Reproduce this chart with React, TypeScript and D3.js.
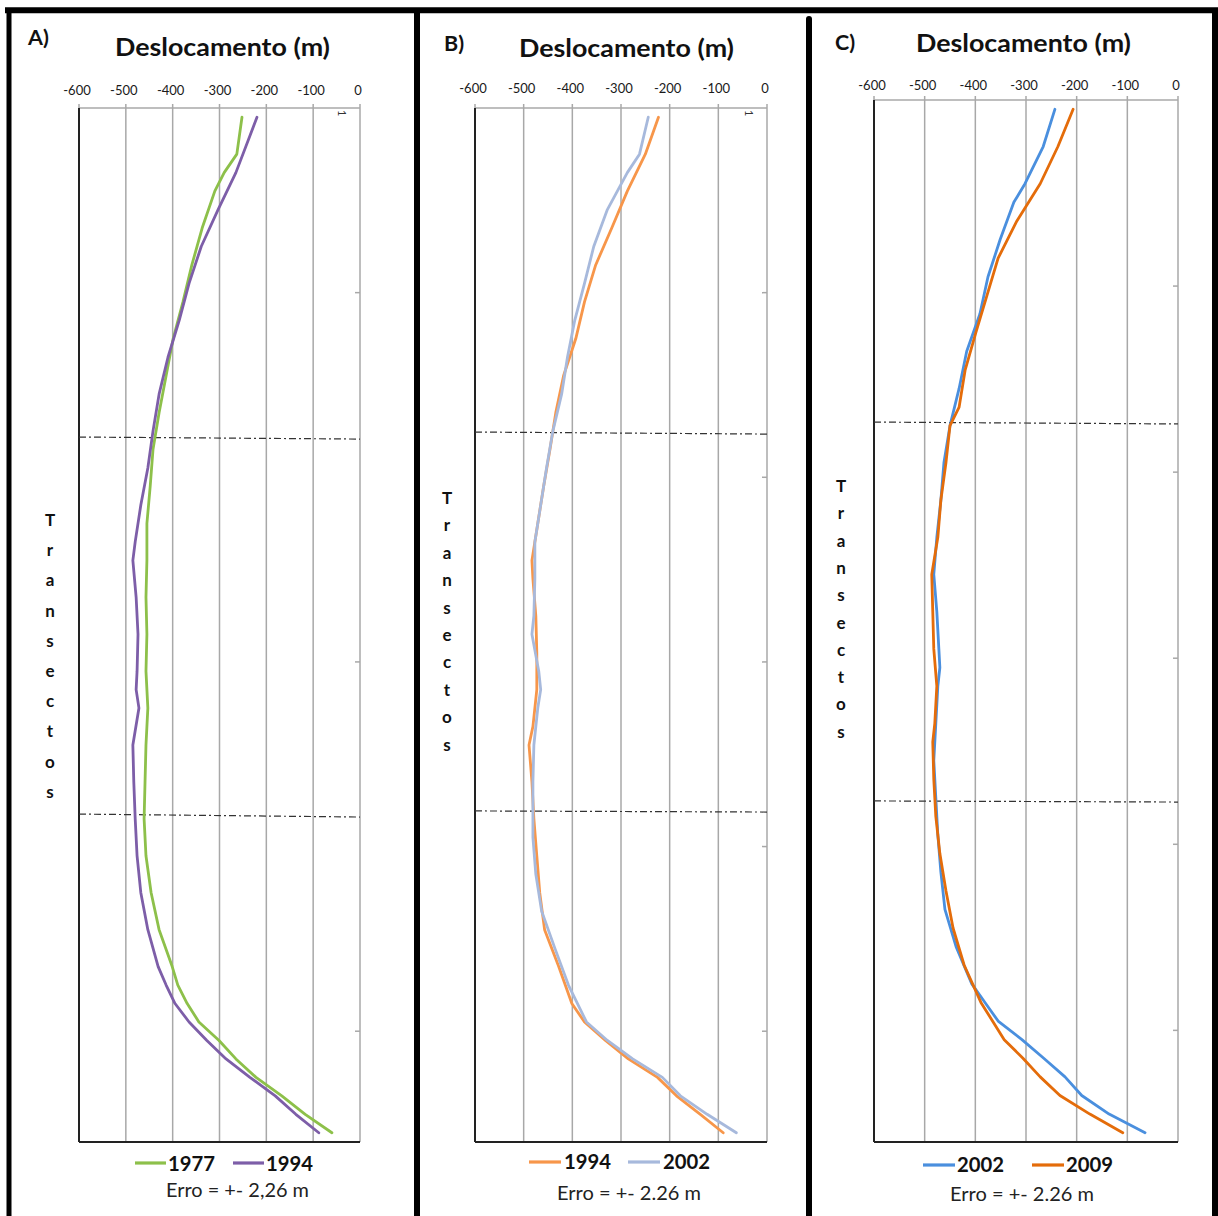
import React from 'react';
import * as d3 from 'd3';

// ---------- data ----------
const X_TICKS = [-600, -500, -400, -300, -200, -100, 0];
const TRANSECT_COUNT = 56;
const TICKS_A = [10, 30, 50];
const TICKS_BC = [10, 20, 30, 40, 50];
const AXIS_WORD = 'Transectos';

// [transect, displacement (m)]
const A_1977: [number, number][] = [
  [1, -252], [3, -263], [4, -290], [5, -310], [7, -337], [9, -359], [11, -378], [13, -399],
  [15, -414], [17, -429], [19, -442], [21, -448], [23, -455], [25, -455], [27, -457], [29, -455],
  [31, -457], [33, -453], [35, -457], [37, -459], [39, -461], [41, -457], [43, -446], [45, -429],
  [47, -401], [48, -389], [49, -369], [50, -344], [51, -301], [52, -265], [53, -222], [54, -167],
  [55, -117], [56, -60],
];
const A_1994: [number, number][] = [
  [1, -220], [2, -235], [4, -265], [6, -303], [8, -339], [10, -365], [12, -386], [14, -410],
  [16, -429], [18, -442], [20, -453], [22, -468], [24, -480], [25, -485], [27, -478], [29, -474],
  [31, -476], [32, -478], [33, -472], [35, -485], [37, -483], [39, -480], [41, -476], [43, -468],
  [45, -453], [47, -431], [48, -414], [49, -395], [50, -365], [51, -327], [52, -286], [53, -235],
  [54, -181], [55, -137], [56, -88],
];
const B_1994: [number, number][] = [
  [1, -223], [3, -250], [5, -287], [7, -319], [9, -352], [11, -375], [13, -393], [15, -418],
  [17, -434], [19, -446], [21, -459], [23, -471], [25, -483], [26, -481], [28, -475], [30, -473],
  [32, -473], [34, -481], [35, -489], [37, -483], [39, -479], [41, -473], [43, -467], [45, -457],
  [47, -428], [49, -401], [50, -375], [51, -332], [52, -285], [53, -225], [54, -186], [55, -137],
  [56, -90],
];
const B_2002: [number, number][] = [
  [1, -244], [3, -262], [4, -287], [6, -328], [8, -356], [10, -375], [12, -395], [14, -410],
  [16, -422], [18, -440], [20, -453], [22, -465], [24, -477], [26, -477], [28, -479], [29, -483],
  [31, -469], [32, -465], [33, -471], [35, -479], [37, -481], [40, -481], [42, -475], [44, -463],
  [46, -436], [48, -408], [50, -371], [51, -328], [52, -276], [53, -215], [54, -178], [55, -123],
  [56, -63],
];
const C_2002: [number, number][] = [
  [1, -243], [3, -266], [5, -302], [6, -324], [8, -351], [10, -375], [12, -391], [14, -417],
  [16, -432], [18, -450], [20, -462], [22, -468], [24, -476], [26, -482], [28, -476], [30, -472],
  [31, -470], [32, -474], [34, -478], [36, -482], [38, -478], [40, -474], [42, -468], [44, -460],
  [46, -438], [48, -407], [49, -381], [50, -355], [51, -308], [52, -265], [53, -223], [54, -190],
  [55, -136], [56, -65],
];
const C_2009: [number, number][] = [
  [1, -207], [3, -237], [5, -272], [7, -318], [9, -355], [11, -377], [13, -399], [15, -420],
  [17, -432], [18, -450], [20, -458], [22, -468], [24, -474], [26, -486], [28, -484], [30, -482],
  [32, -476], [34, -480], [35, -484], [37, -482], [39, -478], [41, -470], [43, -458], [45, -444],
  [47, -422], [49, -389], [51, -343], [52, -306], [53, -272], [54, -233], [55, -174], [56, -109],
];

// sector boundaries (dash-dot), [left end, right end] in transect units
const SECTORS_A: [number, number][] = [[17.82, 17.93], [38.24, 38.4]];
const SECTORS_B: [number, number][] = [[17.55, 17.66], [38.07, 38.13]];
const SECTORS_C: [number, number][] = [[17.31, 17.41], [37.67, 37.73]];

const FONT = 'Lato, "Open Sans", sans-serif';

type Series = { name: string; color: string; data: [number, number][] };

type PanelProps = {
  letter: string;
  x0: number; x1: number; top: number; bottom: number;
  titleX: number; titleY: number;
  letterX: number; letterY: number;
  tickLabelY: number;
  rightTicks: number[];
  sectors: [number, number][];
  series: Series[];
  showOne: boolean;
  wordX: number; wordY0: number; wordStep: number;
  legend: { lines: [number, number][]; textX: number[]; lineY: number; textY: number };
  erro: { text: string; x: number; y: number; width: number };
};

function Panel(p: PanelProps) {
  const x = d3.scaleLinear().domain([-600, 0]).range([p.x0, p.x1]);
  const y = d3.scaleLinear().domain([0, TRANSECT_COUNT]).range([p.top, p.bottom]);
  const line = d3
    .line<[number, number]>()
    .x((d) => x(d[1]))
    .y((d) => y(d[0] - 0.5))
    .curve(d3.curveLinear);

  return (
    <g>
      <text x={p.letterX} y={p.letterY} fontFamily={FONT} fontWeight={700} fontSize={21.5} fill="#111">
        {p.letter}
      </text>
      <text x={p.titleX} y={p.titleY} fontFamily={FONT} fontWeight={700} fontSize={24} fill="#111"
        textLength={215} lengthAdjust="spacingAndGlyphs">
        Deslocamento (m)
      </text>
      {/* grid lines */}
      {X_TICKS.map((t) => (
        <line key={'g' + t} x1={x(t)} x2={x(t)} y1={p.top - 4} y2={p.bottom}
          stroke="#a8a8a8" strokeWidth={1.5} />
      ))}
      {X_TICKS.map((t) => (
        <text key={'l' + t} x={x(t) - 2} y={p.tickLabelY} fontFamily={FONT} fontSize={13}
          textAnchor="middle" fill="#1a1a1a">
          {t}
        </text>
      ))}
      {/* top axis */}
      <line x1={p.x0} x2={p.x1} y1={p.top} y2={p.top} stroke="#a8a8a8" strokeWidth={1.5} />
      {/* right category-axis ticks */}
      {p.rightTicks.map((k) => (
        <line key={'rt' + k} x1={p.x1 - 5} x2={p.x1} y1={y(k)} y2={y(k)} stroke="#a8a8a8" strokeWidth={1.5} />
      ))}
      {p.showOne && (
        <text transform={`translate(${p.x1 - 22},${y(0.5) - 4}) rotate(90)`} fontFamily={FONT}
          fontSize={11} fill="#333" textAnchor="middle">
          1
        </text>
      )}
      {/* left & bottom axis */}
      <line x1={p.x0} x2={p.x0} y1={p.top} y2={p.bottom} stroke="#222" strokeWidth={2} />
      <line x1={p.x0} x2={p.x1} y1={p.bottom} y2={p.bottom} stroke="#222" strokeWidth={2} />
      {/* sector lines */}
      {p.sectors.map((s, i) => (
        <line key={'s' + i} x1={p.x0} x2={p.x1} y1={y(s[0])} y2={y(s[1])} stroke="#333"
          strokeWidth={1.2} strokeDasharray="7 3 2 3" />
      ))}
      {/* series */}
      {p.series.map((s) => (
        <path key={s.name} d={line(s.data) || ''} fill="none" stroke={s.color} strokeWidth={2.8}
          strokeLinejoin="round" strokeLinecap="round" />
      ))}
      {/* vertical word */}
      {AXIS_WORD.split('').map((ch, i) => (
        <text key={'w' + i} x={p.wordX} y={p.wordY0 + i * p.wordStep + 6} fontFamily={FONT}
          fontWeight={700} fontSize={17} textAnchor="middle" fill="#111">
          {ch}
        </text>
      ))}
      {/* legend */}
      {p.series.map((s, i) => (
        <g key={'lg' + s.name}>
          <line x1={p.legend.lines[i][0]} x2={p.legend.lines[i][1]} y1={p.legend.lineY} y2={p.legend.lineY}
            stroke={s.color} strokeWidth={3.2} />
          <text x={p.legend.textX[i]} y={p.legend.textY} fontFamily={FONT} fontWeight={700} fontSize={21}
            fill="#111" textLength={47} lengthAdjust="spacingAndGlyphs">
            {s.name}
          </text>
        </g>
      ))}
      <text x={p.erro.x} y={p.erro.y} fontFamily={FONT} fontSize={18.5} fill="#222"
        textLength={p.erro.width} lengthAdjust="spacingAndGlyphs">
        {p.erro.text}
      </text>
    </g>
  );
}

export default function App() {
  return (
    <svg width={1218} height={1216} style={{ position: 'absolute', left: 0, top: 0, background: '#fff' }}>
      <rect x={0} y={0} width={1218} height={1216} fill="#fff" />
      <Panel
        letter="A)" x0={79} x1={360} top={108} bottom={1142}
        titleX={115} titleY={56} letterX={28} letterY={45} tickLabelY={95}
        rightTicks={TICKS_A} sectors={SECTORS_A} showOne
        series={[
          { name: '1977', color: '#8dc04a', data: A_1977 },
          { name: '1994', color: '#7d5ea8', data: A_1994 },
        ]}
        wordX={50} wordY0={520} wordStep={30.2}
        legend={{ lines: [[135, 166], [233, 264]], textX: [168, 266], lineY: 1163, textY: 1171 }}
        erro={{ text: 'Erro = +- 2,26 m', x: 166, y: 1197, width: 143 }}
      />
      <Panel
        letter="B)" x0={475} x1={767} top={108} bottom={1142}
        titleX={519} titleY={57} letterX={444} letterY={51} tickLabelY={93}
        rightTicks={TICKS_BC} sectors={SECTORS_B} showOne
        series={[
          { name: '1994', color: '#f7964a', data: B_1994 },
          { name: '2002', color: '#a7b9dc', data: B_2002 },
        ]}
        wordX={447} wordY0={498} wordStep={27.4}
        legend={{ lines: [[529, 561], [628, 660]], textX: [564, 663], lineY: 1162, textY: 1169 }}
        erro={{ text: 'Erro = +- 2.26 m', x: 557, y: 1200, width: 144 }}
      />
      <Panel
        letter="C)" x0={874} x1={1178} top={100} bottom={1142}
        titleX={916} titleY={52} letterX={835} letterY={50} tickLabelY={90}
        rightTicks={TICKS_BC} sectors={SECTORS_C} showOne={false}
        series={[
          { name: '2002', color: '#4a8fde', data: C_2002 },
          { name: '2009', color: '#e46c0a', data: C_2009 },
        ]}
        wordX={841} wordY0={486} wordStep={27.3}
        legend={{ lines: [[923, 955], [1032, 1064]], textX: [957, 1066], lineY: 1165, textY: 1172 }}
        erro={{ text: 'Erro = +- 2.26 m', x: 950, y: 1201, width: 144 }}
      />
      {/* frame */}
      <line x1={5} x2={1218} y1={10.3} y2={10.3} stroke="#000" strokeWidth={6} />
      <line x1={9} x2={9} y1={8} y2={1216} stroke="#000" strokeWidth={5} />
      <line x1={417} x2={417} y1={8} y2={1216} stroke="#000" strokeWidth={6} />
      <line x1={809} x2={809} y1={19} y2={1216} stroke="#000" strokeWidth={6} strokeLinecap="round" />
      <line x1={1215} x2={1215} y1={8} y2={1216} stroke="#000" strokeWidth={6} />
    </svg>
  );
}
